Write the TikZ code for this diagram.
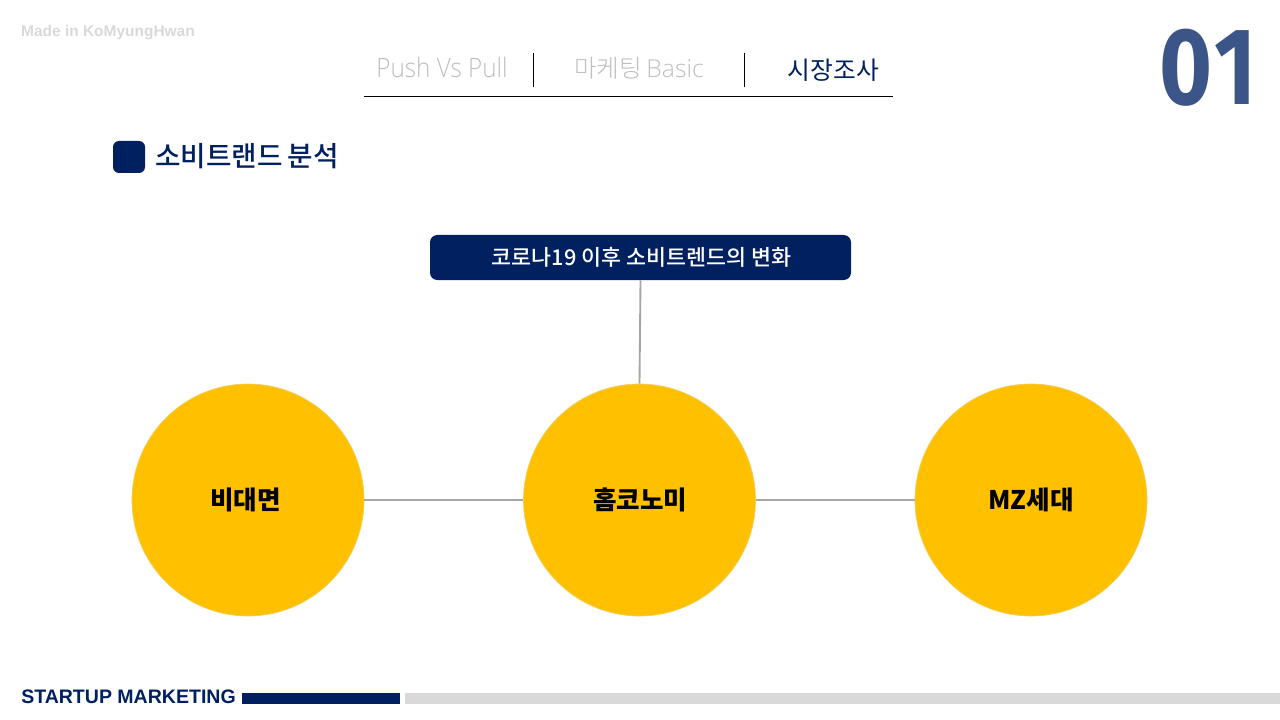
\documentclass[tikz,border=0pt]{standalone}
\usepackage{fontspec}
\setmainfont{Noto Sans CJK KR}
\newfontfamily\krlight{Noto Sans CJK KR Light}
\newfontfamily\krmedium{Noto Sans CJK KR Medium}
\newfontfamily\latlight{Open Sans Light}
\newfontfamily\narrowbold[LetterSpace=4]{Fira Sans}
\newfontfamily\headsans{Liberation Sans}
\definecolor{navy}{HTML}{002060}
\definecolor{numblue}{HTML}{3B5588}
\definecolor{amber}{HTML}{FFC000}
\definecolor{palegrey}{HTML}{D9D9D9}
\definecolor{tabgrey}{HTML}{BFBFBF}
\definecolor{linkgrey}{HTML}{A6A6A6}
\definecolor{discedge}{HTML}{F2CE5E}
\tikzset{
  disc/.style={circle,fill=amber,draw=discedge,line width=.5pt,minimum size=174pt,inner sep=0pt,font=\fontsize{19.2}{22}\selectfont\bfseries,text=black},
  link/.style={draw=linkgrey,line width=1.4pt},
  rule/.style={draw=black,line width=.75pt},
  tabtext/.style={inner sep=0pt,anchor=center,text=tabgrey},
}
\begin{document}
\begin{tikzpicture}[x=0.75pt,y=-0.75pt]
\useasboundingbox (0,0) rectangle (1280,720);
\fill[white] (0,0) rectangle (1280,720);
% top
\node[inner sep=0pt,text=palegrey,font=\headsans\bfseries\fontsize{11.6}{13}\selectfont] (made) at (108,33) {Made in KoMyungHwan};
\node[tabtext,font=\latlight\fontsize{20}{24}\selectfont,xscale=.91] (tab1) at (442,68) {Push Vs Pull};
\node[tabtext,font=\fontsize{18.5}{22}\selectfont] (tab2) at (639,68) {{\krlight 마케팅}\hspace{-1pt} {\latlight Basic}};
\node[inner sep=0pt,text=navy,font=\fontsize{18.6}{22}\selectfont] (tab3) at (833.5,70) {시장조사};
\coordinate (s1a) at (533.5,53); \coordinate (s1b) at (533.5,87);
\coordinate (s2a) at (744.5,53); \coordinate (s2b) at (744.5,87);
\coordinate (ra) at (364,96.5); \coordinate (rb) at (893,96.5);
\draw[draw=black,line width=.75pt] (s1a) -- (s1b);
\draw[draw=black,line width=.75pt] (s2a) -- (s2b);
\draw[rule] (ra) -- (rb);
\node[inner sep=0pt,text=numblue,font=\narrowbold\bfseries\fontsize{82}{90}\selectfont,xscale=.83] (num) at (1208,67.5) {01};
% heading
\node[fill=navy,rounded corners=4.5pt,minimum width=24pt,minimum height=24pt,inner sep=0pt] (bullet) at (129,157) {};
\node[inner sep=0pt,anchor=west,text=navy,font=\krmedium\fontsize{20.8}{24}\selectfont] (head) at (155,156) {소비트랜드\hspace{-1pt} 분석};
% banner
\node[fill=navy,rounded corners=5.5pt,minimum width=315.75pt,minimum height=33.75pt,inner sep=0pt,text=white,font=\krmedium\fontsize{16.3}{19}\selectfont] (banner) at (640.5,257.5) {\hspace*{1.5pt}코로나19 이후 소비트렌드의 변화};
% discs
\node[disc] (c1) at (248,500) {비대면\hspace*{4pt}};
\node[disc] (c2) at (639.5,500) {\hspace*{1pt}홈코노미};
\node[disc] (c3) at (1031,500) {MZ세대};
\draw[link] (banner.south) -- (c2.north);
\draw[link] (c1) -- (c2);
\draw[link] (c2) -- (c3);
% footer
\node[inner sep=0pt,anchor=west,text=navy,font=\headsans\bfseries\fontsize{14.65}{17}\selectfont] (foot) at (21,697) {STARTUP MARKETING};
\node[fill=navy,minimum width=118.5pt,minimum height=8.25pt,inner sep=0pt,anchor=west] (barA) at (242,698.5) {};
\node[fill=palegrey,minimum width=656.25pt,minimum height=8.25pt,inner sep=0pt,anchor=west] (barB) at (405,698.5) {};
\end{tikzpicture}
\end{document}
